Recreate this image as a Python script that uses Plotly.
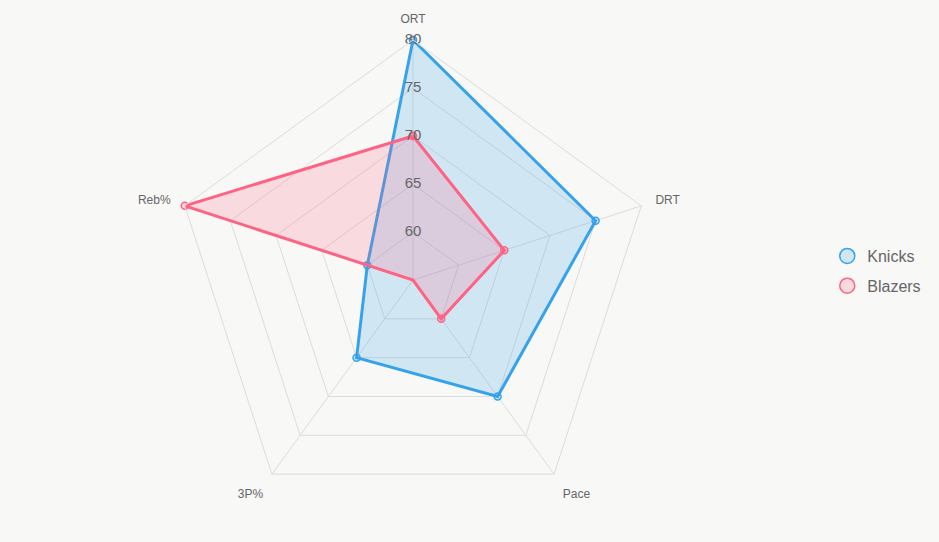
import plotly.graph_objects as go

categories = ["ORT", "DRT", "Pace", "3P%", "Reb%"]
knicks = [80, 75, 70, 65, 60]
blazers = [70, 65, 60, 55, 80]
radial_ticks = [60, 65, 70, 75, 80]

blue = "rgb(54,162,235)"
blue_fill = "rgba(54,162,235,0.2)"
pink = "rgb(255,99,132)"
pink_fill = "rgba(255,99,132,0.2)"

fig = go.Figure()
for name, vals, col, fill in [("Knicks", knicks, blue, blue_fill), ("Blazers", blazers, pink, pink_fill)]:
    fig.add_trace(go.Scatterpolar(
        r=vals + [vals[0]], theta=categories + [categories[0]],
        mode="lines+markers", fill="toself", fillcolor=fill,
        line=dict(color=col, width=3),
        marker=dict(size=7, color=fill, line=dict(color=col, width=1.5)),
        name=name, legendgroup=name, showlegend=False, hoverinfo="r+theta+name"))

# radial tick labels drawn centered on the ORT spoke
fig.add_trace(go.Scatterpolar(
    r=radial_ticks, theta=[categories[0]] * len(radial_ticks), mode="text",
    text=[str(v) for v in radial_ticks], textposition="middle center",
    textfont=dict(size=15, color="#666"), showlegend=False, hoverinfo="skip"))

for name, col, fill in [("Knicks", blue, blue_fill), ("Blazers", pink, pink_fill)]:
    fig.add_trace(go.Scatterpolar(
        r=[None], theta=[categories[0]], mode="markers",
        marker=dict(size=15, color=fill, line=dict(color=col, width=1.5)),
        name=name, legendgroup=name, showlegend=True))

fig.update_layout(
    width=939, height=542,
    margin=dict(l=0, r=0, t=0, b=0),
    paper_bgcolor="#f8f8f6",
    plot_bgcolor="#f8f8f6",
    font=dict(family="Liberation Sans, Arial, sans-serif", color="#666"),
    polar=dict(
        domain=dict(x=[(413 - 240) / 939, (413 + 240) / 939], y=[1 - 520 / 542, 1 - 40 / 542]),
        bgcolor="rgba(0,0,0,0)",
        gridshape="linear",
        radialaxis=dict(range=[55, 80], tickvals=radial_ticks, angle=90,
                        showticklabels=False,
                        showline=False, gridcolor="#dcdcdc", gridwidth=1, ticks=""),
        angularaxis=dict(rotation=90, direction="clockwise", gridcolor="#dcdcdc",
                         linecolor="#dcdcdc", linewidth=1, ticks="outside", ticklen=12,
                         tickcolor="rgba(0,0,0,0)", tickfont=dict(size=12, color="#666")),
    ),
    legend=dict(x=0.881, y=0.5, xanchor="left", yanchor="middle",
                font=dict(size=16, color="#666"), bgcolor="rgba(0,0,0,0)",
                itemsizing="trace", tracegroupgap=6),
    showlegend=True,
)
fig.write_html("out.html")
